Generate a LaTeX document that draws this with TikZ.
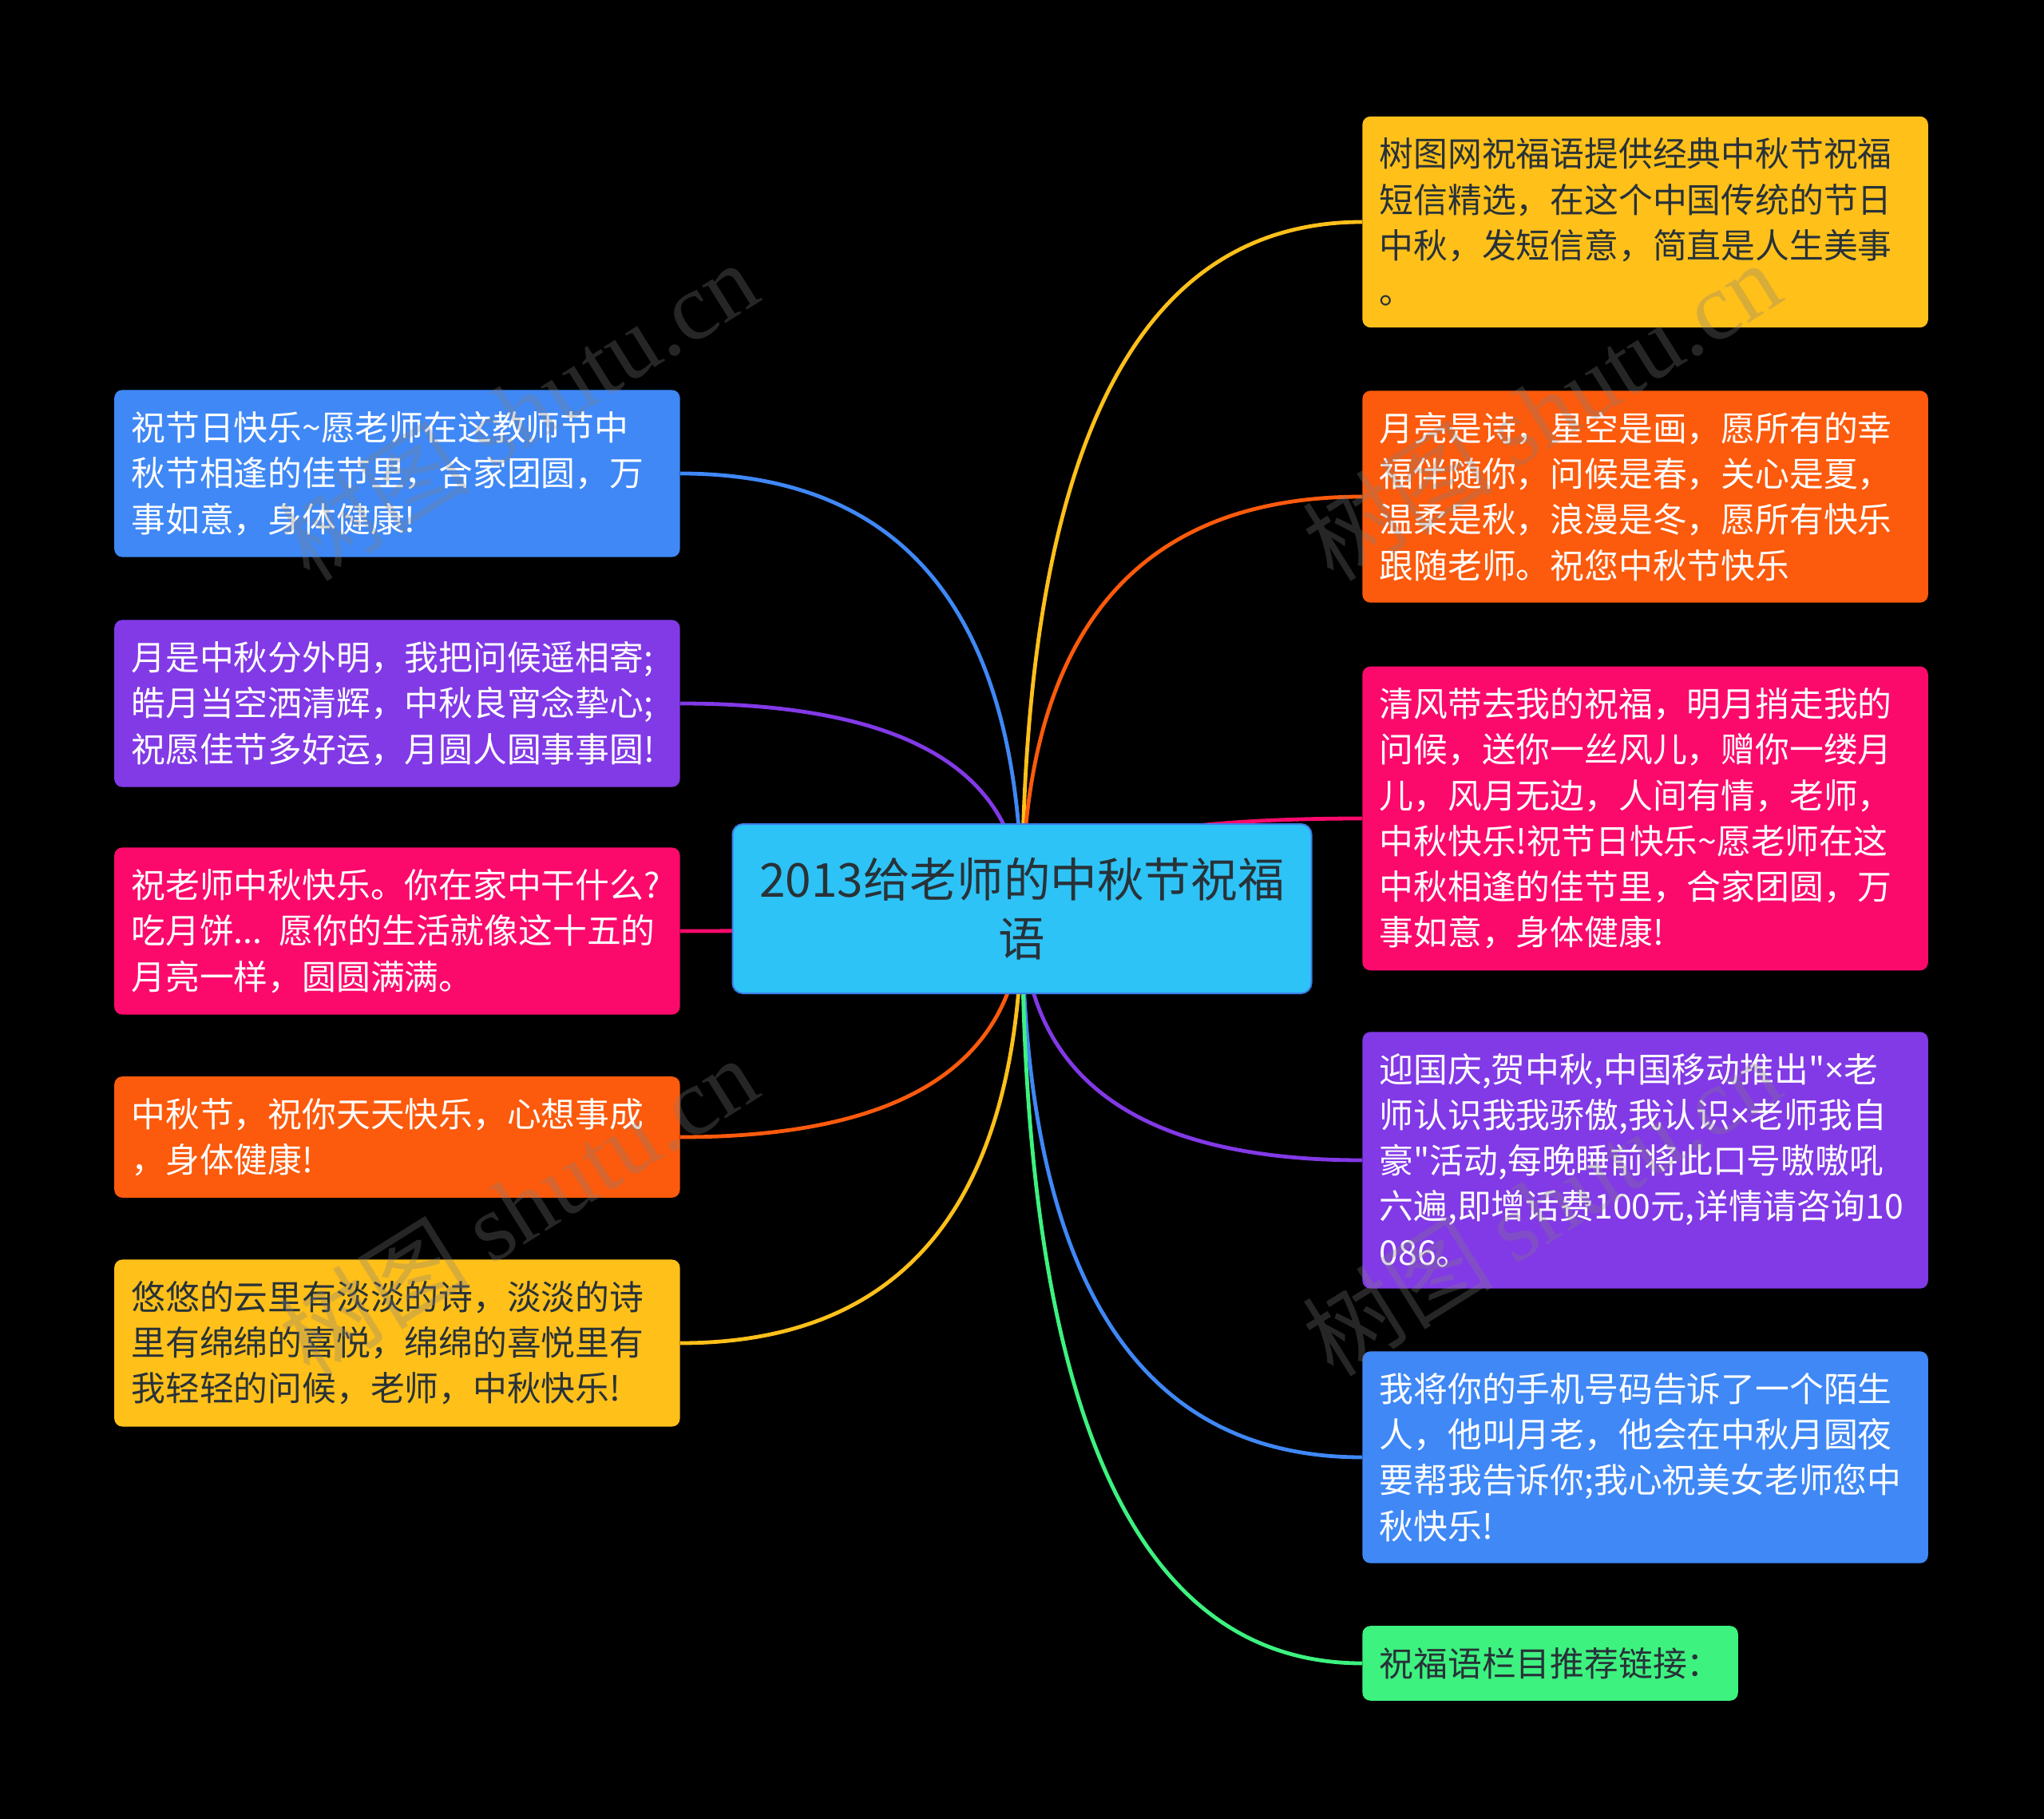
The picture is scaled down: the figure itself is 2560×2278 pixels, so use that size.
\documentclass[tikz,border=0pt]{standalone}
\usepackage{fontspec}
\setmainfont{Noto Sans CJK SC}[Ligatures=TeXOff]
\newfontfamily\wmfont{Liberation Serif}
\newfontfamily\latin{Noto Sans}[Ligatures=TeXOff]
\usetikzlibrary{calc}
\definecolor{yel}{HTML}{FFC01A}
\definecolor{org}{HTML}{FC5A0C}
\definecolor{pnk}{HTML}{FB0A6C}
\definecolor{pur}{HTML}{8239E6}
\definecolor{blu}{HTML}{3F88F6}
\definecolor{grn}{HTML}{3DF27F}
\definecolor{sky}{HTML}{2EC3F6}
\definecolor{skyline}{HTML}{3D7EEA}
\definecolor{ink}{HTML}{283238}
\newcommand{\tms}{{\latin ×}}
\tikzstyle{leaf}=[rounded corners=5pt, inner xsep=10.6pt, inner ysep=13.5pt, text width=333pt, align=left, font=\fontsize{21.4}{28.6}\selectfont]
\tikzstyle{topic}=[rounded corners=6.5pt, fill=sky, draw=skyline, line width=1pt, minimum width=362.5pt, minimum height=106pt, text width=345pt, align=center, text=ink, font=\fontsize{29.3}{36.7}\selectfont]
\tikzstyle{link}=[line width=2.4pt]
\tikzstyle{wmark}=[text=gray, opacity=.3, rotate=32, font=\fontsize{60}{60}\selectfont]
\pgfdeclarelayer{bg}
\pgfdeclarelayer{links}
\pgfsetlayers{bg,links,main}

\begin{document}
\begin{tikzpicture}[x=.5pt, y=-.5pt]
\begin{pgfonlayer}{bg}
\fill[black] (0,0) rectangle (2560,2278);
\end{pgfonlayer}
\useasboundingbox (0,0) rectangle (2560,2278);
\node at (1280,1138)[topic](title){2013给老师的中秋节祝福\\语};
\node at (1706,278)[leaf, anchor=west, fill=yel, text=ink](r1){树图网祝福语提供经典中秋节祝福\\短信精选，在这个中国传统的节日\\中秋，发短信意，简直是人生美事\\。};
\node at (1706,622)[leaf, anchor=west, fill=org, text=white](r2){月亮是诗，星空是画，愿所有的幸\\福伴随你，问候是春，关心是夏，\\温柔是秋，浪漫是冬，愿所有快乐\\跟随老师。祝您中秋节快乐};
\node at (1706,1025)[leaf, anchor=west, fill=pnk, text=white](r3){清风带去我的祝福，明月捎走我的\\问候，送你一丝风儿，赠你一缕月\\儿，风月无边，人间有情，老师，\\中秋快乐!祝节日快乐\textasciitilde 愿老师在这\\中秋相逢的佳节里，合家团圆，万\\事如意，身体健康!};
\node at (1706,1453)[leaf, anchor=west, fill=pur, text=white](r4){迎国庆,贺中秋,中国移动推出"\tms 老\\师认识我我骄傲,我认识\tms 老师我自\\豪"活动,每晚睡前将此口号嗷嗷吼\\六遍,即增话费100元,详情请咨询10\\086。};
\node at (1706,1825)[leaf, anchor=west, fill=blu, text=white](r5){我将你的手机号码告诉了一个陌生\\人，他叫月老，他会在中秋月圆夜\\要帮我告诉你;我心祝美女老师您中\\秋快乐!};
\node at (1706,2083)[leaf, anchor=west, fill=grn, text=ink, text width=214pt](r6){祝福语栏目推荐链接：};
\node at (852,593)[leaf, anchor=east, fill=blu, text=white](l1){祝节日快乐\textasciitilde 愿老师在这教师节中\\秋节相逢的佳节里，合家团圆，万\\事如意，身体健康!};
\node at (852,881)[leaf, anchor=east, fill=pur, text=white](l2){月是中秋分外明，我把问候遥相寄;\\皓月当空洒清辉，中秋良宵念挚心;\\祝愿佳节多好运，月圆人圆事事圆!};
\node at (852,1166)[leaf, anchor=east, fill=pnk, text=white](l3){祝老师中秋快乐。你在家中干什么?\\吃月饼... 愿你的生活就像这十五的\\月亮一样，圆圆满满。};
\node at (852,1424)[leaf, anchor=east, fill=org, text=white](l4){中秋节，祝你天天快乐，心想事成\\，身体健康!};
\node at (852,1682)[leaf, anchor=east, fill=yel, text=ink](l5){悠悠的云里有淡淡的诗，淡淡的诗\\里有绵绵的喜悦，绵绵的喜悦里有\\我轻轻的问候，老师，中秋快乐!};
\begin{pgfonlayer}{links}
\foreach \n/\a/\c in {r1/west/yel, r2/west/org, r3/west/pnk, r4/west/pur, r5/west/blu, r6/west/grn, l1/east/blu, l2/east/pur, l3/east/pnk, l4/east/org, l5/east/yel}
  \draw[link, \c] (title.center) .. controls ($(title.center)!.667!(title.center |- \n.\a)$) and ($(\n.\a)!.667!(title.center |- \n.\a)$) .. (\n.\a);
\end{pgfonlayer}
\node at (649,514)[wmark](w1){树图 {\wmfont shutu.cn}};
\node at (1930,514)[wmark](w2){树图 {\wmfont shutu.cn}};
\node at (649,1510)[wmark](w3){树图 {\wmfont shutu.cn}};
\node at (1930,1510)[wmark](w4){树图 {\wmfont shutu.cn}};
\end{tikzpicture}
\end{document}
